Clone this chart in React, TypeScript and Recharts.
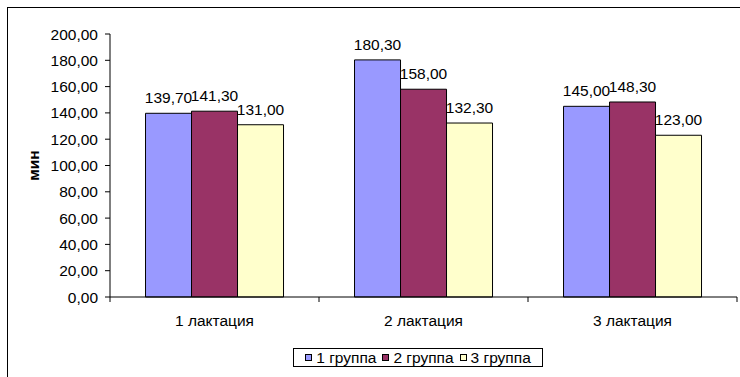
import React from "react";
import { BarChart, Bar, XAxis, YAxis, Legend, LabelList } from "recharts";

const lactations = ["1 лактация", "2 лактация", "3 лактация"];
const group1 = [139.7, 180.3, 145.0];
const group2 = [141.3, 158.0, 148.3];
const group3 = [131.0, 132.3, 123.0];
const yTicks = [0, 20, 40, 60, 80, 100, 120, 140, 160, 180, 200];

const series = [
  { key: "g1", name: "1 группа", color: "#9999FF" },
  { key: "g2", name: "2 группа", color: "#993366" },
  { key: "g3", name: "3 группа", color: "#FFFFCC" },
];

const data = lactations.map((name, i) => ({
  name,
  g1: group1[i],
  g2: group2[i],
  g3: group3[i],
}));

const FONT = "'Liberation Sans', Arial, sans-serif";
const FS = 15.5;

const fmt = (v: any) => Number(v).toFixed(2).replace(".", ",");

// category label plus tick marks on the category boundaries
const CategoryTick = (props: any) => {
  const { x, y, payload, index, width, visibleTicksCount } = props;
  const half = width / visibleTicksCount / 2;
  return (
    <g>
      {index === 0 && <line x1={x - half} x2={x - half} y1={y} y2={y + 5} stroke="#000" />}
      <line x1={x + half} x2={x + half} y1={y} y2={y + 5} stroke="#000" />
      <text x={x} y={y + 29} textAnchor="middle" fontSize={FS} fontFamily={FONT} fill="#000">
        {payload.value}
      </text>
    </g>
  );
};

const AxisTitle = (props: any) => {
  const vb = props.viewBox;
  const cx = vb.x + 25;
  const cy = vb.y + vb.height / 2;
  return (
    <text
      x={cx}
      y={cy}
      transform={`rotate(-90, ${cx}, ${cy})`}
      textAnchor="middle"
      dominantBaseline="central"
      fontSize={FS}
      fontWeight="bold"
      fontFamily={FONT}
      fill="#000"
    >
      мин
    </text>
  );
};

const LegendBox = () => (
  <div
    style={{
      boxSizing: "border-box",
      width: 250,
      height: 19,
      border: "1px solid #000",
      background: "#fff",
      display: "flex",
      alignItems: "center",
      justifyContent: "center",
      fontFamily: FONT,
      fontSize: FS,
      color: "#000",
      lineHeight: 1,
    }}
  >
    {series.map((s, i) => (
      <span key={s.key} style={{ display: "flex", alignItems: "center", marginLeft: i ? 6 : 0 }}>
        <span
          style={{
            boxSizing: "border-box",
            width: 7,
            height: 7,
            border: "1px solid #000",
            background: s.color,
            marginRight: 4,
          }}
        />
        {s.name}
      </span>
    ))}
  </div>
);

export default function App() {
  return (
    <div
      style={{
        position: "fixed",
        left: 7,
        top: 7,
        width: 760,
        height: 400,
        borderTop: "1px solid #000",
        borderLeft: "1px solid #000",
        background: "#fff",
      }}
    >
      <BarChart
        width={733}
        height={370}
        data={data}
        margin={{ top: 26, right: 4, left: 0, bottom: 51 }}
        barCategoryGap="17%"
        barGap={0}
        style={{ fontFamily: FONT }}
      >
        <XAxis
          dataKey="name"
          height={30}
          stroke="#000"
          tickLine={false}
          tickSize={0}
          tickMargin={0}
          tick={<CategoryTick />}
        />
        <YAxis
          width={102}
          domain={[0, 200]}
          ticks={yTicks}
          interval={0}
          tickFormatter={fmt}
          stroke="#000"
          tickSize={5}
          tickMargin={7}
          tick={{ fill: "#000", fontSize: FS, fontFamily: FONT }}
          label={AxisTitle}
        />
        <Legend
          layout="horizontal"
          verticalAlign="middle"
          align="center"
          wrapperStyle={{ left: 285, top: 340, width: 250, height: 19 }}
          content={<LegendBox />}
        />
        {series.map((s) => (
          <Bar
            key={s.key}
            dataKey={s.key}
            name={s.name}
            fill={s.color}
            stroke="#000"
            strokeWidth={1}
            isAnimationActive={false}
          >
            <LabelList
              dataKey={s.key}
              position="top"
              offset={10}
              formatter={fmt}
              fill="#000"
              fontSize={FS}
              fontFamily={FONT}
            />
          </Bar>
        ))}
      </BarChart>
    </div>
  );
}
